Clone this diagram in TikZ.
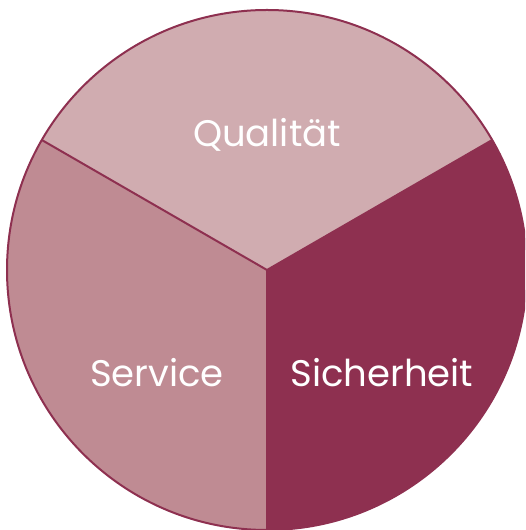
\documentclass[tikz,border=0pt]{standalone}
\usepackage{fontspec}
\setmainfont{Poppins}
\definecolor{cLight}{HTML}{D0ACB0}
\definecolor{cMid}{HTML}{BF8B93}
\definecolor{cDark}{HTML}{8E3050}
\begin{document}
\begin{tikzpicture}[x=1pt,y=1pt,
  sector/.style={draw=cDark,line width=2pt,line join=round},
  lbl/.style={text=white,font=\fontsize{37}{40}\selectfont,inner sep=0pt,anchor=base}]
\useasboundingbox (0,0) rectangle (525,530);
\coordinate (c) at (267,260);
\begin{scope}
\clip (0,0) rectangle (525,530);
\fill[cLight] (c) -- ++(30:260) arc[start angle=30,end angle=150,radius=260] -- cycle;
\fill[cMid] (c) -- ++(150:260) arc[start angle=150,end angle=270,radius=260] -- cycle;
\fill[cDark] (c) -- ++(270:260) arc[start angle=270,end angle=390,radius=260] -- cycle;
\draw[sector] (c) circle[radius=260];
\draw[sector] (c) -- ++(150:260);
\draw[sector] (c) -- ++(30:260);
\draw[sector] (c) -- ++(270:260);
\end{scope}
\node[lbl] (q) at (267,383) {Qualität};
\node[lbl] (s) at (157,143) {Service};
\node[lbl] (h) at (382,143) {Sicherheit};
\end{tikzpicture}
\end{document}
